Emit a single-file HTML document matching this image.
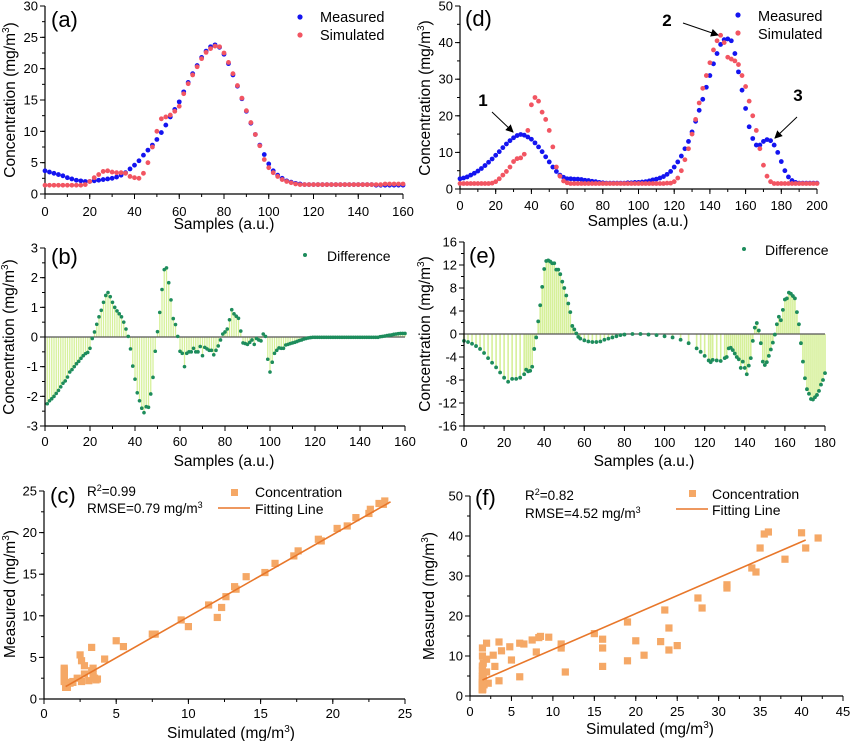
<!DOCTYPE html>
<html><head><meta charset="utf-8">
<style>
html,body{margin:0;padding:0;background:#fff;}
svg{display:block;font-family:"Liberation Sans",Arial,sans-serif;}
</style></head>
<body>
<svg id="fig" width="851" height="741" viewBox="0 0 851 741" xmlns="http://www.w3.org/2000/svg">
<g id="layer"></g>
</svg>
<script>
// ---------- DATA ----------
// Panel (a): samples every 2 (0..160)
const aMeasured=[3.7,3.5,3.3,3.1,2.9,2.6,2.4,2.2,2.1,2.0,2.0,2.1,2.2,2.3,2.4,2.5,2.7,3.0,3.4,4.0,4.6,5.3,6.2,7.0,7.8,8.7,9.8,11.0,12.3,13.5,14.7,16.3,17.8,19.2,20.5,21.8,22.8,23.5,23.8,23.4,22.3,20.8,19.0,17.2,15.2,13.2,11.3,9.5,7.8,6.3,4.8,3.7,3.0,2.5,2.1,1.9,1.7,1.6,1.5,1.5,1.5,1.5,1.5,1.5,1.5,1.5,1.5,1.5,1.5,1.5,1.5,1.5,1.5,1.5,1.4,1.4,1.4,1.4,1.4,1.4,1.4];
const aSimulated=[1.4,1.4,1.4,1.4,1.4,1.4,1.4,1.4,1.4,1.5,2.0,2.6,3.1,3.6,3.7,3.5,3.4,3.4,3.3,2.8,2.6,2.5,3.3,5.0,7.5,10.0,12.0,12.3,12.6,13.2,14.0,16.0,17.6,19.0,20.3,21.6,22.6,23.2,23.6,23.5,22.5,21.0,19.2,17.3,15.3,13.3,11.4,9.5,7.7,5.5,4.2,3.4,2.8,2.3,2.0,1.8,1.6,1.5,1.5,1.5,1.5,1.5,1.5,1.5,1.5,1.5,1.5,1.5,1.5,1.5,1.5,1.5,1.5,1.5,1.5,1.5,1.6,1.6,1.6,1.6,1.6];
const aStep=2;
// Panel (b): difference, samples 1..160
const bDiff=[-2.25,-2.15,-2.08,-2.0,-1.9,-1.8,-1.68,-1.56,-1.48,-1.35,-1.18,-1.1,-1.0,-0.9,-0.82,-0.72,-0.63,-0.56,-0.52,-0.38,
-0.05,0.17,0.43,0.68,0.9,1.17,1.4,1.5,1.36,1.17,1.0,0.88,0.78,0.68,0.5,0.27,0.02,-0.4,-0.98,-1.42,
-1.88,-2.15,-2.4,-2.55,-2.35,-2.37,-1.92,-1.36,-0.48,0.18,0.83,1.6,2.27,2.33,1.83,1.25,0.62,0.42,0.02,-0.48,
-0.55,-1.0,-0.55,-0.5,-0.5,-0.38,-0.5,-0.5,-0.32,-0.63,-0.35,-0.4,-0.45,-0.45,-0.6,-0.45,-0.3,-0.1,0.1,0.17,
0.27,0.58,0.92,0.78,0.7,0.63,0.2,-0.2,-0.22,-0.25,-0.18,-0.1,-0.25,-0.05,-0.1,-0.13,0.1,0.02,-0.75,-1.18,
-0.85,-0.55,-0.45,-0.37,-0.38,-0.38,-0.27,-0.25,-0.22,-0.2,-0.18,-0.15,-0.12,-0.1,-0.07,-0.05,-0.03,-0.02,-0.01,-0.01,
-0.01,-0.01,-0.01,-0.01,-0.01,-0.01,-0.01,-0.01,-0.01,-0.01,-0.01,-0.01,-0.01,-0.01,-0.01,-0.01,-0.01,-0.01,-0.01,-0.01,
-0.01,-0.01,-0.01,-0.01,-0.01,-0.01,-0.01,-0.01,0.01,0.02,0.03,0.05,0.06,0.07,0.09,0.1,0.11,0.12,0.12,0.12];
// Panel (d): samples every 2 (0..200)
const dMeasured=[2.8,3.0,3.3,3.8,4.3,4.9,5.6,6.4,7.3,8.2,9.2,10.2,11.3,12.3,13.2,14.0,14.6,14.9,14.7,14.2,13.6,12.6,11.5,10.2,8.8,7.4,6.0,4.8,3.8,3.2,2.8,2.8,2.7,2.7,2.6,2.4,2.3,2.1,2.0,1.8,1.7,1.6,1.6,1.6,1.6,1.6,1.6,1.7,1.7,1.8,1.8,1.9,2.0,2.2,2.5,2.7,3.0,3.4,4.0,4.8,6.0,7.4,9.0,11.0,13.0,15.6,18.5,21.5,24.5,27.8,31.0,34.2,37.0,39.5,40.8,41.0,40.5,37.0,32.0,27.0,22.0,17.0,13.8,12.0,12.0,13.0,13.5,13.2,12.0,10.0,7.5,5.0,3.3,2.3,1.8,1.6,1.6,1.6,1.6,1.6,1.6];
const dSimulated=[1.5,1.5,1.5,1.5,1.5,1.5,1.5,1.5,1.5,1.6,2.0,2.8,3.8,4.8,6.0,7.5,8.3,8.5,9.5,16.0,23.0,25.0,24.0,21.0,19.0,16.0,11.5,6.0,3.5,2.2,1.7,1.5,1.5,1.5,1.5,1.5,1.5,1.5,1.5,1.5,1.5,1.5,1.5,1.5,1.5,1.5,1.5,1.5,1.5,1.5,1.5,1.5,1.5,1.5,1.5,1.5,1.5,1.5,1.6,1.6,2.0,3.0,5.0,8.0,11.0,15.0,19.0,23.5,27.5,31.0,34.5,38.0,40.5,42.0,40.0,36.0,35.5,35.0,34.0,31.0,28.0,24.0,20.0,16.0,11.0,6.5,3.5,2.0,1.5,1.5,1.5,1.5,1.5,1.5,1.5,1.5,1.5,1.5,1.5,1.5,1.5];
const dStep=2;
// Panel (e): difference
const eSamples=[0,2,4,6,8,10,12,14,16,18,20,22,24,26,28,30,31,32,33,34,35,36,37,38,39,40,41,42,43,44,45,46,47,48,49,50,51,52,53,54,55,56,57,58,60,62,64,66,68,70,72,74,76,78,80,84,88,92,96,100,104,108,112,116,118,120,122,123,124,126,128,130,131,132,133,134,135,136,137,138,139,140,141,142,143,144,145,146,147,148,149,150,151,152,153,154,155,156,157,158,159,160,161,162,163,164,165,166,167,168,169,170,171,172,173,174,175,176,177,178,179,180];
const eDiff=[-1.2,-1.4,-1.7,-2.1,-2.6,-3.3,-4.2,-5.0,-5.8,-6.7,-7.6,-8.3,-7.8,-7.8,-7.6,-7.0,-6.2,-6.5,-6.4,-5.7,-2.6,-0.6,2.2,5.0,8.2,11.3,12.7,12.8,12.6,12.3,12.3,11.2,11.2,10.4,9.1,8.0,6.7,5.3,3.8,1.4,0.8,0.1,-0.5,-0.8,-1.1,-1.3,-1.4,-1.4,-1.3,-1.0,-0.8,-0.6,-0.4,-0.2,-0.1,0,0,-0.1,-0.2,-0.4,-0.6,-1.0,-1.6,-2.5,-3.1,-3.8,-4.6,-4.9,-4.5,-4.6,-4.7,-4.2,-4.0,-2.5,-2.4,-2.8,-3.4,-4.0,-4.4,-5.9,-4.8,-5.9,-7.0,-5.5,-4.2,-1.2,1.1,1.9,0.6,-1.6,-4.8,-5.4,-4.9,-3.8,-2.7,-1.5,-0.1,1.7,3.0,2.4,4.2,6.0,6.2,7.2,7.0,6.6,6.2,3.8,1.7,-1.6,-4.8,-7.7,-9.6,-10.4,-11.3,-11.4,-11.0,-10.6,-9.9,-8.8,-8.0,-6.8];
// Fitting lines [x0,y0,x1,y1] in data units
const cFit=[1.5,1.5,24,23.7];
const fFit=[1.5,4.0,40.5,39.0];
// Tick labels
const aXTicks=[0,20,40,60,80,100,120,140,160], aYTicks=[0,5,10,15,20,25,30];
const bXTicks=[0,20,40,60,80,100,120,140,160], bYTicks=[-3,-2,-1,0,1,2,3];
const cXTicks=[0,5,10,15,20,25], cYTicks=[0,5,10,15,20,25];
const dXTicks=[0,20,40,60,80,100,120,140,160,180,200], dYTicks=[0,10,20,30,40,50];
const eXTicks=[0,20,40,60,80,100,120,140,160,180], eYTicks=[-16,-12,-8,-4,0,4,8,12,16];
const fXTicks=[0,5,10,15,20,25,30,35,40,45], fYTicks=[0,10,20,30,40,50];

// ---------- DRAW ----------
const NS="http://www.w3.org/2000/svg";
const root=document.getElementById('layer');
function mk(tag,attrs,parent){const e=document.createElementNS(NS,tag);for(const k in attrs)e.setAttribute(k,attrs[k]);(parent||root).appendChild(e);return e;}
function txt(s,attrs,parent){const e=mk('text',attrs,parent);e.textContent=s;return e;}
function scale(d0,d1,p0,p1){return v=>p0+(v-d0)*(p1-p0)/(d1-d0);}

function axes(g,P,xt,yt,xminor,yminor,tickBase){
  const ax=mk('g',{},g);
  
  
  mk('line',{x1:P.px0,y1:P.py0,x2:P.px1,y2:P.py0,stroke:'#000','stroke-width':1.2},ax);
  mk('line',{x1:P.px0,y1:P.py0,x2:P.px0,y2:P.py1,stroke:'#000','stroke-width':1.2},ax);
  const X=P.X,Y=P.Y;
  for(let v=P.xd0;v<=P.xd1+1e-9;v+=xminor){mk('line',{x1:X(v),y1:P.py0,x2:X(v),y2:P.py0+3,stroke:'#000','stroke-width':1},ax);}
  for(let v=P.yd0;v<=P.yd1+1e-9;v+=yminor){mk('line',{x1:P.px0,y1:Y(v),x2:P.px0-3,y2:Y(v),stroke:'#000','stroke-width':1},ax);}
  xt.forEach(v=>{mk('line',{x1:X(v),y1:P.py0,x2:X(v),y2:P.py0+5,stroke:'#000','stroke-width':1},ax);
    const t=txt(String(v),{x:X(v),y:tickBase,'text-anchor':'middle','font-size':13},ax);
    
    });
  yt.forEach(v=>{mk('line',{x1:P.px0,y1:Y(v),x2:P.px0-5,y2:Y(v),stroke:'#000','stroke-width':1},ax);
    const t=txt(String(v),{x:P.px0-7,y:Y(v)+4.5,'text-anchor':'end','font-size':13},ax);
    
    });
}
function ytitle(g,x,y,html,name){
  const t=mk('text',{x:0,y:0,transform:`translate(${x},${y}) rotate(-90)`,'text-anchor':'middle','font-size':15.5},g);
  t.innerHTML=html;
  
  
}
function xtitle(g,x,y,html,name){
  const t=mk('text',{x:x,y:y,'text-anchor':'middle','font-size':15.5},g);
  t.innerHTML=html;
  
  
}
function plabel(g,x,y,s){
  const t=txt(s,{x:x,y:y,'font-size':22},g);
  
  
}
const CONC='Concentration (mg/m<tspan font-size="10" dy="-6">3</tspan><tspan dy="6">)</tspan>';
const BLUE='#1414f0',RED='#f25562',GREEN='#1d8c5c',STEM='#d6f09a',ORANGE='#f5a866',FITC='#e8772a';

function panel(name,px0,px1,py0,py1,xd0,xd1,yd0,yd1){
  const g=mk('g',{});
  
  
  return {g,px0,px1,py0,py1,xd0,xd1,yd0,yd1,X:scale(xd0,xd1,px0,px1),Y:scale(yd0,yd1,py0,py1)};
}

// ----- (a) -----
(function(){
  const P=panel('panel-a',45,403,194,6,0,160,0,30);
  axes(P.g,P,aXTicks,aYTicks,10,2.5,216);
  aMeasured.forEach((v,i)=>{const c=mk('circle',{cx:P.X(i*aStep),cy:P.Y(v),r:2.4,fill:BLUE},P.g);
    
    });
  aSimulated.forEach((v,i)=>{const c=mk('circle',{cx:P.X(i*aStep),cy:P.Y(v),r:2.4,fill:RED},P.g);
    
    });
  ytitle(P.g,15,100,CONC,'y-axis-title');
  xtitle(P.g,224,229,'Samples (a.u.)','x-axis-title');
  plabel(P.g,51,27,'(a)');
  const l=mk('g',{},P.g);
  
  
  mk('circle',{cx:300,cy:17,r:2.6,fill:BLUE},l);
  txt('Measured',{x:320,y:22,'font-size':14.5},l);
  mk('circle',{cx:300,cy:35,r:2.6,fill:RED},l);
  txt('Simulated',{x:320,y:40,'font-size':14.5},l);
})();

// ----- (b) -----
(function(){
  const P=panel('panel-b',45,405,426,248,0,160,-3,3);
  bDiff.forEach((v,i)=>{const s=mk('line',{x1:P.X(i+1),y1:P.Y(0),x2:P.X(i+1),y2:P.Y(v),stroke:STEM,'stroke-width':1.3},P.g);
    
    });
  mk('line',{x1:P.px0,y1:P.Y(0),x2:P.px1,y2:P.Y(0),stroke:'#555','stroke-width':1.2},P.g);
  bDiff.forEach((v,i)=>{const c=mk('circle',{cx:P.X(i+1),cy:P.Y(v),r:1.8,fill:GREEN},P.g);
    
    });
  axes(P.g,P,bXTicks,bYTicks,10,0.5,446);
  ytitle(P.g,14,337,CONC,'y-axis-title');
  xtitle(P.g,224,466,'Samples (a.u.)','x-axis-title');
  plabel(P.g,51,264,'(b)');
  const l=mk('g',{},P.g);
  
  
  mk('circle',{cx:305,cy:255,r:2,fill:GREEN},l);
  txt('Difference',{x:327,y:261,'font-size':14},l);
})();

// ----- (c) -----
(function(){
  const P=panel('panel-c',44,405,699,491,0,25,0,25);
  axes(P.g,P,cXTicks,cYTicks,2.5,2.5,718);
  aSimulated.forEach((s,i)=>{const m=aMeasured[i];
    const r=mk('rect',{x:P.X(s)-3.6,y:P.Y(m)-3.6,width:7.2,height:7.2,fill:ORANGE},P.g);
    
    });
  const fl=mk('line',{x1:P.X(cFit[0]),y1:P.Y(cFit[1]),x2:P.X(cFit[2]),y2:P.Y(cFit[3]),stroke:FITC,'stroke-width':1.6},P.g);
  
  
  ytitle(P.g,15,594,'Measured (mg/m<tspan font-size="10" dy="-6">3</tspan><tspan dy="6">)</tspan>','y-axis-title');
  xtitle(P.g,231,738,'Simulated (mg/m<tspan font-size="10" dy="-6">3</tspan><tspan dy="6">)</tspan>','x-axis-title');
  plabel(P.g,50,503,'(c)');
  const st=mk('text',{x:87,y:496,'font-size':13.5},P.g);
  st.innerHTML='R<tspan font-size="9" dy="-5">2</tspan><tspan dy="5">=0.99</tspan>';
  
  
  const rm=mk('text',{x:87,y:513,'font-size':13.5},P.g);
  rm.innerHTML='RMSE=0.79 mg/m<tspan font-size="9" dy="-5">3</tspan>';
  
  
  const l=mk('g',{},P.g);
  
  
  mk('rect',{x:231,y:489,width:7,height:7,fill:ORANGE},l);
  txt('Concentration',{x:255,y:497,'font-size':14},l);
  mk('line',{x1:218,y1:508,x2:250,y2:508,stroke:FITC,'stroke-width':1.6},l);
  txt('Fitting Line',{x:255,y:514,'font-size':14},l);
})();

// ----- (d) -----
(function(){
  const P=panel('panel-d',460,817,189,6,0,200,0,50);
  axes(P.g,P,dXTicks,dYTicks,10,5,210);
  dMeasured.forEach((v,i)=>{const c=mk('circle',{cx:P.X(i*dStep),cy:P.Y(v),r:2.4,fill:BLUE},P.g);
    
    });
  dSimulated.forEach((v,i)=>{const c=mk('circle',{cx:P.X(i*dStep),cy:P.Y(v),r:2.4,fill:RED},P.g);
    
    });
  ytitle(P.g,430,98,CONC,'y-axis-title');
  xtitle(P.g,638,226,'Samples (a.u.)','x-axis-title');
  plabel(P.g,465,26,'(d)');
  const l=mk('g',{},P.g);
  
  
  mk('circle',{cx:738,cy:15,r:2.6,fill:BLUE},l);
  txt('Measured',{x:758,y:21,'font-size':14.5},l);
  mk('circle',{cx:738,cy:33,r:2.6,fill:RED},l);
  txt('Simulated',{x:758,y:39,'font-size':14.5},l);
  mk('defs',{},P.g).innerHTML='<marker id="ah" markerWidth="8" markerHeight="8" refX="7" refY="4" orient="auto"><path d="M0,0 L8,4 L0,8 z" fill="#000"/></marker>';
  [[483,100,'1',492,112,513,132],[667,20,'2',683,23,718,35],[798,95,'3',797,117,775,138]].forEach(a=>{
    const t=txt(a[2],{x:a[0],y:a[1]+6,'font-size':17,'font-weight':'bold','text-anchor':'middle'},P.g);
    
    
    const ar=mk('line',{x1:a[3],y1:a[4],x2:a[5],y2:a[6],stroke:'#000','stroke-width':1,'marker-end':'url(#ah)'},P.g);
    
    
  });
})();

// ----- (e) -----
(function(){
  const P=panel('panel-e',464,825,426,242,0,180,-16,16);
  eSamples.forEach((x,i)=>{const s=mk('line',{x1:P.X(x),y1:P.Y(0),x2:P.X(x),y2:P.Y(eDiff[i]),stroke:STEM,'stroke-width':1.6},P.g);
    
    });
  mk('line',{x1:P.px0,y1:P.Y(0),x2:P.px1,y2:P.Y(0),stroke:'#555','stroke-width':1.2},P.g);
  eSamples.forEach((x,i)=>{const c=mk('circle',{cx:P.X(x),cy:P.Y(eDiff[i]),r:1.9,fill:GREEN},P.g);
    
    });
  axes(P.g,P,eXTicks,eYTicks,10,2,447);
  ytitle(P.g,430,334,CONC,'y-axis-title');
  xtitle(P.g,644,466,'Samples (a.u.)','x-axis-title');
  plabel(P.g,469,263,'(e)');
  const l=mk('g',{},P.g);
  
  
  mk('circle',{cx:744,cy:249,r:2,fill:GREEN},l);
  txt('Difference',{x:765,y:255,'font-size':14},l);
})();

// ----- (f) -----
(function(){
  const P=panel('panel-f',470,843,696,496,0,45,0,50);
  axes(P.g,P,fXTicks,fYTicks,2.5,5,716);
  dSimulated.forEach((s,i)=>{const m=dMeasured[i];
    const r=mk('rect',{x:P.X(s)-3.6,y:P.Y(m)-3.6,width:7.2,height:7.2,fill:ORANGE},P.g);
    
    });
  const fl=mk('line',{x1:P.X(fFit[0]),y1:P.Y(fFit[1]),x2:P.X(fFit[2]),y2:P.Y(fFit[3]),stroke:FITC,'stroke-width':1.6},P.g);
  
  
  ytitle(P.g,434,596,'Measured (mg/m<tspan font-size="10" dy="-6">3</tspan><tspan dy="6">)</tspan>','y-axis-title');
  xtitle(P.g,650,734,'Simulated (mg/m<tspan font-size="10" dy="-6">3</tspan><tspan dy="6">)</tspan>','x-axis-title');
  plabel(P.g,475,505,'(f)');
  const st=mk('text',{x:525,y:500,'font-size':13.5},P.g);
  st.innerHTML='R<tspan font-size="9" dy="-5">2</tspan><tspan dy="5">=0.82</tspan>';
  
  
  const rm=mk('text',{x:525,y:518,'font-size':13.5},P.g);
  rm.innerHTML='RMSE=4.52 mg/m<tspan font-size="9" dy="-5">3</tspan>';
  
  
  const l=mk('g',{},P.g);
  
  
  mk('rect',{x:689,y:490,width:7,height:7,fill:ORANGE},l);
  txt('Concentration',{x:712,y:499,'font-size':14},l);
  mk('line',{x1:676,y1:509,x2:708,y2:509,stroke:FITC,'stroke-width':1.6},l);
  txt('Fitting Line',{x:712,y:515,'font-size':14},l);
})();
</script>
</body></html>
